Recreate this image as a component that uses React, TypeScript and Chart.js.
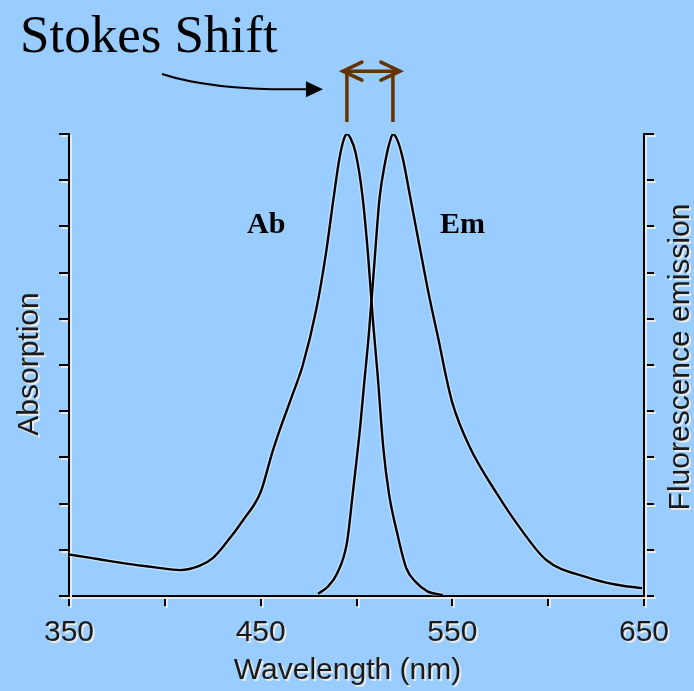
import React, { useEffect, useRef } from "react";
import { Chart, registerables } from "chart.js";

Chart.register(...registerables);

// ---- data (wavelength nm, relative intensity 0..10) ----
const absWavelength = [350, 365, 380, 395, 408, 418, 425, 432, 441, 450, 456, 460, 467, 472, 479, 484, 488, 491, 493.5, 495, 497, 499.5, 503, 506, 508.5, 511, 514, 517, 521, 526, 531, 537, 545];
const absValue = [0.9, 0.8, 0.7, 0.62, 0.56, 0.65, 0.82, 1.15, 1.65, 2.25, 3.1, 3.6, 4.4, 5.0, 6.2, 7.4, 8.6, 9.45, 9.9, 10, 9.9, 9.6, 8.7, 7.4, 6.0, 4.8, 3.2, 2.2, 1.4, 0.6, 0.3, 0.1, 0.02];

const emWavelength = [480, 485, 490, 495, 498, 502, 504, 506.5, 509.5, 512, 515, 517.5, 519, 521, 524, 528, 533, 538, 543.6, 546, 550, 559, 573, 585, 599, 620, 635, 649];
const emValue = [0.05, 0.2, 0.5, 1.15, 2.2, 3.7, 4.6, 5.7, 7.3, 8.6, 9.4, 9.85, 10, 9.9, 9.5, 8.64, 7.55, 6.47, 5.39, 4.89, 4.18, 3.23, 2.23, 1.49, 0.78, 0.41, 0.25, 0.17];

const xLabeledTicks = [350, 450, 550, 650];
const xTitle = "Wavelength (nm)";
const yLeftTitle = "Absorption";
const yRightTitle = "Fluorescence emission";
const headline = "Stokes Shift";
const absLabel = "Ab";
const emLabel = "Em";
const absPeak = 495;
const emPeak = 519;

const toPoints = (xs: number[], ys: number[]) => xs.map((x, i) => ({ x, y: ys[i] }));

const SANS = '"Liberation Sans", Arial, sans-serif';
const SERIF = '"Liberation Serif", "Times New Roman", serif';

const shadowPlugin = {
  id: "textShadow",
  beforeDraw(chart: any) {
    const ctx = chart.ctx;
    ctx.save();
    ctx.shadowColor = "rgba(235,235,235,0.95)";
    ctx.shadowOffsetX = 2;
    ctx.shadowOffsetY = 2;
    ctx.shadowBlur = 0;
  },
  beforeDatasetsDraw(chart: any) {
    chart.ctx.restore();
  },
};

const annotationPlugin = {
  id: "annotations",
  afterDraw(chart: any) {
    const ctx = chart.ctx;
    const xs = chart.scales.x;
    const ys = chart.scales.y;
    const px = (v: number) => xs.getPixelForValue(v);
    const py = (v: number) => ys.getPixelForValue(v);
    const area = chart.chartArea;

    // axis titles with shadow
    ctx.save();
    ctx.shadowColor = "rgba(235,235,235,0.95)";
    ctx.shadowOffsetX = 2;
    ctx.shadowOffsetY = 2;
    ctx.fillStyle = "#1a1a1a";
    ctx.font = `30px ${SANS}`;
    ctx.textAlign = "center";
    ctx.textBaseline = "alphabetic";
    ctx.fillText(xTitle, (area.left + area.right) / 2 - 9, 679);
    const midY = (area.top + area.bottom) / 2;
    ctx.save();
    ctx.translate(38, midY - 1);
    ctx.rotate(-Math.PI / 2);
    ctx.fillText(yLeftTitle, 0, 0);
    ctx.restore();
    ctx.save();
    ctx.translate(689, midY - 8);
    ctx.rotate(-Math.PI / 2);
    ctx.fillText(yRightTitle, 0, 0);
    ctx.restore();
    ctx.restore();

    // headline
    ctx.save();
    ctx.fillStyle = "#000";
    ctx.font = `53px ${SERIF}`;
    ctx.textAlign = "left";
    ctx.textBaseline = "alphabetic";
    ctx.fillText(headline, px(324.4), py(11.77));

    // curve labels
    ctx.font = `bold 30px ${SERIF}`;
    ctx.fillText(absLabel, px(442.9), py(7.86));
    ctx.fillText(emLabel, px(543.6), py(7.86));

    // curved pointer arrow
    const sx = px(398.5), sy = py(11.3);
    const cx = px(426), cy = py(10.93);
    const ex = px(482.5), ey = py(10.97);
    ctx.strokeStyle = "#000";
    ctx.lineWidth = 2;
    ctx.beginPath();
    ctx.moveTo(sx, sy);
    ctx.quadraticCurveTo(cx, cy, ex - 14, ey);
    ctx.stroke();
    ctx.fillStyle = "#000";
    ctx.beginPath();
    ctx.moveTo(ex, ey);
    ctx.lineTo(ex - 17, ey - 8);
    ctx.lineTo(ex - 17, ey + 8);
    ctx.closePath();
    ctx.fill();

    // brown bracket with double arrow
    const bx1 = px(absPeak), bx2 = px(emPeak);
    const top = py(11.36), bot = py(10.26);
    ctx.strokeStyle = "#663300";
    ctx.lineWidth = 3.5;
    ctx.lineCap = "butt";
    ctx.beginPath();
    ctx.moveTo(bx1, top);
    ctx.lineTo(bx1, bot);
    ctx.moveTo(bx2, top);
    ctx.lineTo(bx2, bot);
    ctx.moveTo(bx1 - 4, top);
    ctx.lineTo(bx2 + 7, top);
    ctx.stroke();
    ctx.lineCap = "round";
    ctx.beginPath();
    ctx.moveTo(bx1 + 15, top - 9);
    ctx.lineTo(bx1 - 4, top);
    ctx.lineTo(bx1 + 15, top + 9);
    ctx.moveTo(bx2 - 12, top - 9);
    ctx.lineTo(bx2 + 7, top);
    ctx.lineTo(bx2 - 12, top + 9);
    ctx.stroke();
    ctx.restore();
  },
};

export default function App() {
  const ref = useRef<HTMLCanvasElement | null>(null);

  useEffect(() => {
    if (!ref.current) return;
    const axisGrid = {
      display: true,
      drawOnChartArea: false,
      drawTicks: true,
      tickLength: 10,
      color: "#000",
      lineWidth: 2,
    };
    const halo = "rgba(255,255,255,0.4)";
    const chart = new Chart(ref.current, {
      type: "line",
      data: {
        datasets: [
          {
            label: "Ab halo",
            data: toPoints(absWavelength, absValue),
            borderColor: halo,
            borderWidth: 5,
            pointRadius: 0,
            cubicInterpolationMode: "monotone",
            yAxisID: "y",
            order: 3,
          },
          {
            label: "Em halo",
            data: toPoints(emWavelength, emValue),
            borderColor: halo,
            borderWidth: 5,
            pointRadius: 0,
            cubicInterpolationMode: "monotone",
            yAxisID: "y2",
            order: 3,
          },
          {
            label: "Absorption",
            data: toPoints(absWavelength, absValue),
            borderColor: "#000",
            borderWidth: 2.4,
            pointRadius: 0,
            cubicInterpolationMode: "monotone",
            yAxisID: "y",
            order: 1,
          },
          {
            label: "Emission",
            data: toPoints(emWavelength, emValue),
            borderColor: "#000",
            borderWidth: 2.4,
            pointRadius: 0,
            cubicInterpolationMode: "monotone",
            yAxisID: "y2",
            order: 1,
          },
        ],
      },
      options: {
        responsive: false,
        animation: false,
        devicePixelRatio: 1,
        layout: { padding: { top: 134, left: 0, right: 0, bottom: 0 } },
        plugins: { legend: { display: false }, tooltip: { enabled: false } },
        scales: {
          x: {
            type: "linear",
            min: 350,
            max: 650,
            grid: axisGrid,
            border: { display: true, color: "#000", width: 2 },
            ticks: {
              stepSize: 50,
              autoSkip: false,
              maxRotation: 0,
              padding: 9,
              color: "#1a1a1a",
              font: { family: SANS, size: 30 },
              callback: (v: any) => (xLabeledTicks.includes(Number(v)) ? String(v) : ""),
            },
            afterFit: (s: any) => {
              s.height = 95;
            },
          },
          y: {
            position: "left",
            min: 0,
            max: 10,
            grid: axisGrid,
            border: { display: true, color: "#000", width: 2 },
            ticks: { stepSize: 1, callback: () => "" },
            afterFit: (s: any) => {
              s.width = 69;
            },
          },
          y2: {
            position: "right",
            min: 0,
            max: 10,
            grid: axisGrid,
            border: { display: true, color: "#000", width: 2 },
            ticks: { stepSize: 1, callback: () => "" },
            afterFit: (s: any) => {
              s.width = 50;
            },
          },
        },
      },
      plugins: [shadowPlugin, annotationPlugin],
    } as any);
    return () => chart.destroy();
  }, []);

  return (
    <div
      style={{
        position: "fixed",
        left: 0,
        top: 0,
        width: 694,
        height: 691,
        background: "#99CCFF",
      }}
    >
      <canvas ref={ref} width={694} height={691} style={{ display: "block" }} />
    </div>
  );
}
